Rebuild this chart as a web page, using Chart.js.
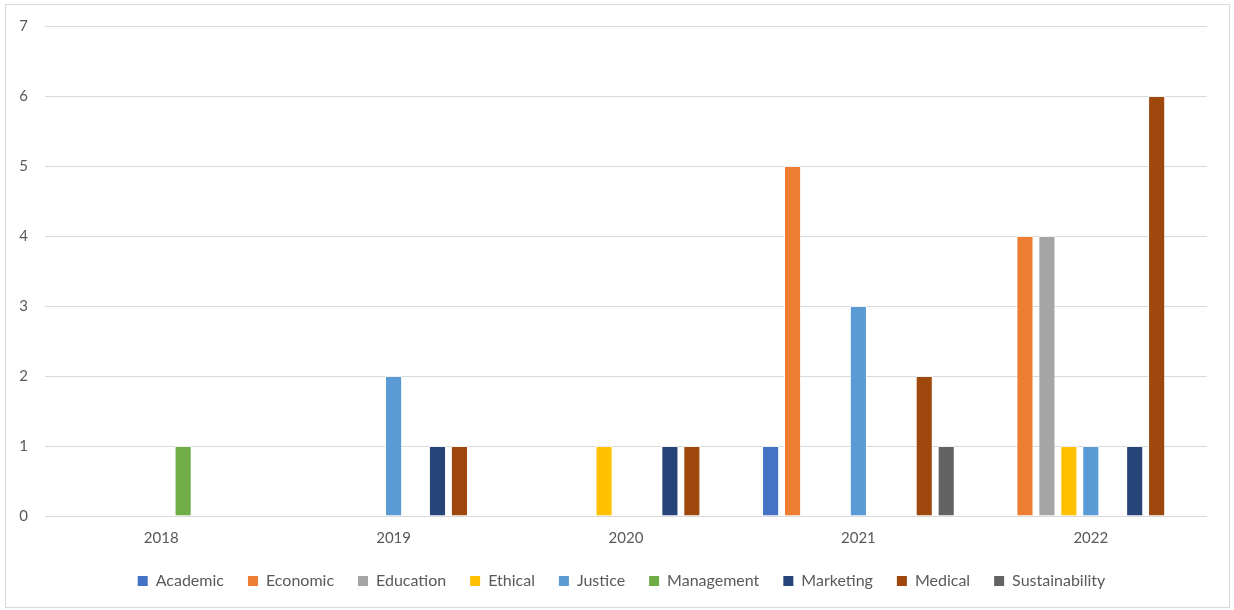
<!DOCTYPE html>
<html>
<head>
<meta charset="utf-8">
<script src="https://cdn.jsdelivr.net/npm/chart.js@4"></script>
<style>
  html, body { margin: 0; padding: 0; background: #fff; }
  #frame { position: absolute; left: 5px; top: 4px; width: 1223px; height: 602px; border: 1px solid #d9d9d9; }
  #wrap { position: absolute; left: 0; top: 0; width: 1234px; height: 610px; }
</style>
</head>
<body>
<div id="frame"></div>
<div id="wrap"><canvas id="myChart"></canvas></div>
<script>
const years = ['2018', '2019', '2020', '2021', '2022'];
const seriesNames = ['Academic', 'Economic', 'Education', 'Ethical', 'Justice', 'Management', 'Marketing', 'Medical', 'Sustainability'];
const seriesColors = ['#4472C4', '#ED7D31', '#A5A5A5', '#FFC000', '#5B9BD5', '#70AD47', '#264478', '#9E480E', '#636363'];

// values per series, one entry per year (null = no bar)
const academic       = [null, null, null, 1, null];
const economic       = [null, null, null, 5, 4];
const education      = [null, null, null, null, 4];
const ethical        = [null, null, 1, null, 1];
const justice        = [null, 2, null, 3, 1];
const management     = [1, null, null, null, null];
const marketing      = [null, 1, 1, null, 1];
const medical        = [null, 1, 1, 2, 6];
const sustainability = [null, null, null, 1, null];

const seriesValues = [academic, economic, education, ethical, justice, management, marketing, medical, sustainability];
const yTicks = [0, 1, 2, 3, 4, 5, 6, 7];

const fontFamily = 'Lato, "Noto Sans", sans-serif';
const textColor = '#595959';

// nudge the legend up and right, like the original layout
const legendShift = {
    id: 'legendShift',
    afterLayout(chart) {
        const lg = chart.legend;
        if (!lg) return;
        lg.top -= 11; lg.bottom -= 11;
        lg.left += 13; lg.right += 13;
    }
};

const ctx = document.getElementById('myChart').getContext('2d');
const myChart = new Chart(ctx, {
    type: 'bar',
    data: {
        labels: years,
        datasets: seriesNames.map((name, i) => ({
            label: name,
            data: seriesValues[i],
            backgroundColor: seriesColors[i],
            borderColor: 'rgba(255,255,255,0.6)',
            borderWidth: 1,
            categoryPercentage: 0.85,
            barPercentage: 0.78,
        }))
    },
    plugins: [legendShift],
    options: {
        responsive: true,
        maintainAspectRatio: false,
        animation: false,
        layout: {
            padding: { left: 10, right: 27, top: 17, bottom: 0 }
        },
        plugins: {
            tooltip: { enabled: false },
            legend: {
                position: 'bottom',
                labels: {
                    boxWidth: 10,
                    boxHeight: 10,
                    padding: 24,
                    color: textColor,
                    font: { family: fontFamily, size: 16 },
                    generateLabels: (chart) => chart.data.datasets.map((ds, i) => ({
                        text: ds.label,
                        fillStyle: seriesColors[i],
                        strokeStyle: seriesColors[i],
                        lineWidth: 0,
                        datasetIndex: i,
                        fontColor: textColor,
                    })),
                },
            },
        },
        scales: {
            x: {
                grid: { display: false, drawTicks: false },
                border: { display: false },
                ticks: {
                    color: textColor,
                    padding: 13,
                    font: { family: fontFamily, size: 15 },
                },
            },
            y: {
                min: 0,
                max: 7,
                afterBuildTicks: (scale) => { scale.ticks = yTicks.map(v => ({ value: v })); },
                afterFit: (scale) => { scale.width = 35; },
                grid: { color: '#d9d9d9', lineWidth: 1, drawTicks: false },
                border: { display: false },
                ticks: {
                    color: textColor,
                    padding: 17,
                    font: { family: fontFamily, size: 15 },
                },
            },
        },
    },
});
</script>
</body>
</html>
